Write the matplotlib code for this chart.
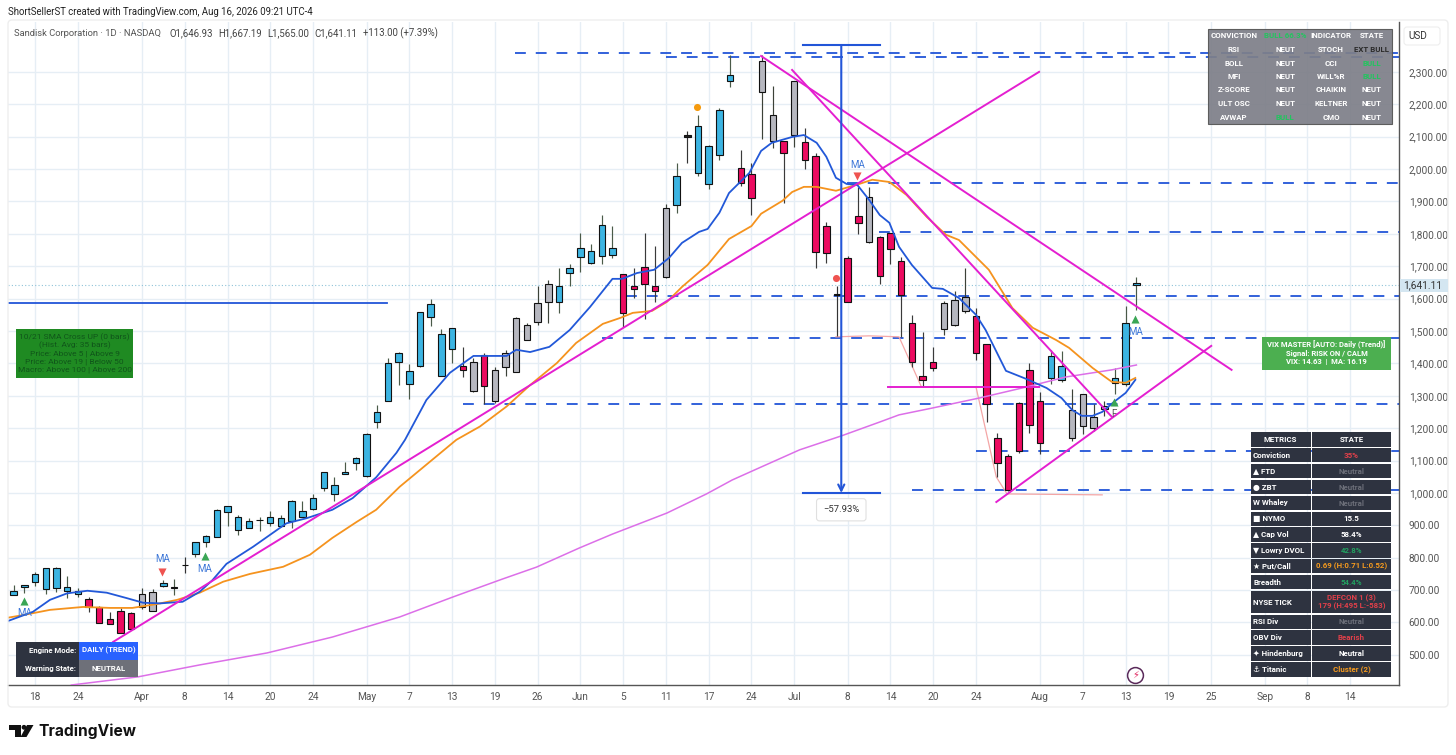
import matplotlib
matplotlib.use('Agg')
import matplotlib.pyplot as plt
from matplotlib.patches import Rectangle, FancyBboxPatch, Polygon, Circle
import numpy as np

plt.rcParams['font.family'] = ['Roboto', 'DejaVu Sans']
TABLE_FONT = ['Roboto', 'DejaVu Sans']

# daily candles
opens = [684, 711, 724, 703, 706, 697, 688, 673, 649, 610, 637, 628, 649, 637, 713, 706, 778, 812, 847, 863,
         940, 886, 891, 915, 908, 899, 914, 927, 950, 1015, 997, 1060, 1092, 1053, 1218, 1285, 1405, 1336, 1391, 1543,
         1362, 1444, 1391, 1316, 1427, 1285, 1388, 1374, 1473, 1529, 1588, 1591, 1678, 1727, 1711, 1732, 1736, 1675, 1638, 1697,
         1638, 1668, 1888, 2098, 1989, 1955, 2042, 2271, 2004, 1984, 2237, 2087, 2086, 2106, 2083, 2040, 1825, 1611, 1725, 1854,
         1776, 1790, 1802, 1715, 1524, 1362, 1404, 1507, 1520, 1563, 1547, 1459, 1169, 1114, 1277, 1379, 1283, 1354, 1348, 1169,
         1208, 1200, 1259, 1339, 1337, 1647]
highs = [716, 716, 757, 769, 770, 745, 706, 680, 652, 632, 644, 633, 706, 703, 731, 733, 803, 850, 870, 949,
         961, 933, 923, 927, 945, 933, 977, 975, 997, 1066, 1048, 1097, 1110, 1186, 1272, 1417, 1435, 1397, 1559, 1598,
         1505, 1510, 1450, 1416, 1433, 1390, 1442, 1542, 1524, 1639, 1658, 1696, 1707, 1802, 1769, 1858, 1825, 1676, 1694, 1802,
         1763, 1892, 2020, 2118, 2167, 2075, 2190, 2353, 2059, 2020, 2353, 2255, 2087, 2272, 2126, 2051, 1835, 1639, 1730, 1946,
         1946, 1792, 1803, 1728, 1550, 1497, 1452, 1594, 1625, 1695, 1570, 1460, 1184, 1120, 1282, 1401, 1313, 1442, 1439, 1320,
         1306, 1275, 1284, 1387, 1578, 1667]
lows = [684, 692, 713, 688, 695, 677, 680, 633, 598, 595, 567, 577, 641, 637, 709, 684, 752, 803, 832, 863,
        898, 871, 891, 884, 898, 896, 893, 927, 948, 1007, 975, 1060, 1071, 1049, 1202, 1285, 1333, 1290, 1390, 1514,
        1362, 1402, 1359, 1313, 1275, 1279, 1362, 1372, 1473, 1517, 1524, 1557, 1639, 1683, 1707, 1707, 1724, 1512, 1601, 1536,
        1589, 1663, 1864, 2020, 1980, 1938, 2028, 2252, 1949, 1859, 2092, 2064, 1895, 2069, 2000, 1693, 1711, 1483, 1588, 1800,
        1771, 1644, 1707, 1481, 1388, 1326, 1375, 1488, 1514, 1557, 1411, 1220, 1048, 1006, 1123, 1184, 1120, 1337, 1341, 1161,
        1181, 1192, 1239, 1306, 1331, 1565]
closes = [698, 715, 749, 767, 767, 711, 698, 649, 598, 595, 567, 581, 688, 695, 723, 711, 779, 848, 868, 948,
          960, 925, 913, 917, 925, 923, 975, 943, 984, 1065, 1023, 1066, 1107, 1182, 1251, 1401, 1433, 1375, 1558, 1583,
          1490, 1509, 1379, 1404, 1329, 1379, 1433, 1539, 1517, 1586, 1644, 1638, 1694, 1757, 1746, 1828, 1756, 1555, 1631, 1644,
          1622, 1879, 1978, 2105, 2132, 2072, 2183, 2290, 1958, 1911, 2333, 2168, 2048, 2271, 2028, 1743, 1742, 1615, 1588, 1833,
          1913, 1671, 1753, 1611, 1405, 1350, 1386, 1586, 1595, 1606, 1433, 1274, 1092, 1009, 1131, 1210, 1155, 1422, 1393, 1255,
          1305, 1234, 1268, 1354, 1524, 1641]
kinds = list('bbbbbbb' 'rrrrr' 'gg' 'bb' 'k' 'bbbbbbbbbbbbbbbbbbbbbbbbb' 'rgr' 'gggggg' 'bbbbbb' 'rrrr' 'gbk' 'bbbb'
             'rr' 'gg' 'rg' 'rrr' 'k' 'rr' 'g' 'rrrrrr' 'ggg' 'rrrrrrr' 'bb' 'gggg' 'bbb')

ma_blue_x = [-0.5, 1.8, 3.4, 5.0, 6.9, 8.7, 10.6, 12.1, 13.7, 15.8, 17.4, 18.6, 19.9, 22.4, 25.5, 27.4, 29.8, 31.7, 33.9, 35.8,
             36.6, 38.6, 40.8, 43.0, 46.1, 47.0, 48.3, 50.1, 52.0, 53.9, 56.0, 56.9, 58.3, 59.9, 61.3, 62.5, 64.1, 64.9, 66.0, 66.9,
             68.8, 69.9, 70.9, 72.8, 73.9, 75.1, 76.0, 76.9, 77.9, 78.9, 80.0, 81.0, 81.9, 82.8, 84.0, 85.9, 86.9, 88.4, 90.0, 90.9,
             92.8, 94.7, 96.6, 98.0, 99.0, 99.9, 100.9, 101.8, 102.9, 104.0, 104.9]
ma_blue = [605, 633, 670, 690, 698, 692, 675, 661, 659, 664, 695, 731, 781, 834, 906, 922, 948, 984, 1048, 1124,
           1164, 1287, 1371, 1423, 1423, 1442, 1435, 1451, 1503, 1574, 1661, 1661, 1679, 1689, 1726, 1772, 1806, 1815, 1865, 1926,
           1988, 2056, 2081, 2099, 2105, 2081, 2038, 1973, 1954, 1951, 1905, 1858, 1834, 1760, 1704, 1633, 1630, 1602, 1550, 1503,
           1377, 1352, 1324, 1293, 1256, 1238, 1238, 1250, 1281, 1309, 1349]
ma_orange_x = [-0.5, 0.9, 3.4, 6.5, 9.0, 11.1, 13.4, 15.3, 17.4, 19.6, 22.1, 25.2, 27.7, 29.8, 32.1, 33.9, 36.1, 41.4, 43.6, 46.1,
               48.3, 50.8, 52.6, 55.1, 56.7, 57.9, 59.7, 61.1, 62.5, 64.9, 66.9, 69.0, 69.9, 71.9, 72.8, 73.9, 75.1, 76.9, 78.8, 80.3,
               81.9, 83.5, 85.4, 87.2, 88.4, 91.2, 93.4, 95.3, 97.5, 98.7, 100.9, 102.7, 104.0, 104.9]
ma_orange = [615, 623, 639, 648, 645, 645, 657, 670, 692, 726, 750, 772, 809, 861, 911, 948, 1019, 1164, 1205, 1267,
             1333, 1401, 1463, 1522, 1540, 1556, 1562, 1590, 1636, 1704, 1784, 1824, 1862, 1902, 1929, 1945, 1945, 1933, 1951, 1967,
             1960, 1920, 1852, 1797, 1781, 1689, 1571, 1510, 1472, 1448, 1386, 1343, 1340, 1355]
ma_purple_x = [5.4, 11.6, 17.4, 23.7, 29.8, 36.1, 41.1, 45.7, 48.9, 52.9, 56.0, 61.1, 64.8, 67.2, 69.7, 73.5, 77.4, 81.0, 82.8, 85.9,
               90.3, 94.7, 98.4, 102.7, 105.0]
ma_purple = [407, 432, 469, 506, 555, 617, 679, 734, 771, 830, 873, 938, 997, 1040, 1077, 1133, 1176, 1219, 1241, 1262,
             1293, 1327, 1358, 1380, 1395]

# trendlines: x0, p0, x1, p1
trendlines = [[9.3, 540, 95.9, 2300], [69.9, 2349, 113.9, 1380], [72.8, 2306, 102.7, 1235],
              [91.9, 972, 112.0, 1454], [81.8, 1327, 95.9, 1327]]
levels = [2359, 2346, 1957, 1806, 1608, 1479, 1275, 1130, 1008]
level_starts = [46.9, 61, 77.9, 80.9, 57.3, 55, 42, 90, 84]
zigzag_x = [76.9, 80, 82.8, 84.9, 90, 91.9, 92.9, 101.8]
zigzag_p = [1482, 1485, 1482, 1327, 1327, 1049, 997, 994]

price_ticks = list(range(500, 2400, 100))
date_ticks = [2, 6, 12, 16, 20, 24, 28, 33, 37, 41, 45, 49, 53, 57, 61, 65, 69, 73, 78, 82, 86, 90, 96, 100, 104, 108, 112, 117, 121, 125]
date_labels = ['18', '24', 'Apr', '8', '14', '20', '24', 'May', '7', '13', '19', '26', 'Jun', '5', '11', '17', '24', 'Jul', '8', '14',
               '20', '24', 'Aug', '7', '13', '19', '25', 'Sep', '8', '14']

W, H = 1456, 755
fig = plt.figure(figsize=(W / 100, H / 100), dpi=100, facecolor='white')
ax = fig.add_axes([8 / W, 1 - 685 / H, (1399 - 8) / W, (685 - 22) / H])
ax.set_xlim(-0.53, 129.56)
ax.set_ylim(407, 2454)

ax.set_xticks(date_ticks)
ax.set_xticklabels(date_labels)
ax.set_yticks(price_ticks)
ax.set_yticklabels([f'{p:,.2f}' for p in price_ticks])
ax.yaxis.tick_right()
ax.tick_params(axis='y', length=0, labelsize=7.3, labelcolor='#555555', pad=7)
ax.tick_params(axis='x', length=0, labelsize=7.3, labelcolor='#555555', pad=5)
ax.grid(True, color='#e6eef5', lw=1)
ax.set_axisbelow(True)
for side in ['top', 'left']:
    ax.spines[side].set_visible(False)
for side in ['right', 'bottom']:
    ax.spines[side].set_color('#555555')
    ax.spines[side].set_linewidth(1)

# levels and drawings
for p, start in zip(levels, level_starts):
    ax.plot([start, 129.56], [p, p], color='#2255d8', lw=1.3, dashes=(6, 5.5), zorder=2)
ax.plot([-0.5, 34.9], [1587, 1587], color='#2255d8', lw=1.3, zorder=2)
ax.axhline(1641, color='#8fc3d8', lw=0.8, ls=(0, (1, 2)), zorder=2)
ax.plot(zigzag_x, zigzag_p, color='#f4a6a6', lw=0.9, zorder=2)

# candles
x = np.arange(len(opens))
body_colors = {'b': '#3cb4e2', 'g': '#b6b7bf', 'r': '#ec0b60', 'k': '#222222'}
wick_colors = {'b': '#4a5a48', 'g': '#3c4238', 'r': '#3a3a3a', 'k': '#333333'}
ax.vlines(x, lows, highs, colors=[wick_colors[k] for k in kinds], lw=0.85, zorder=3)
bottoms = np.minimum(opens, closes)
tops = np.maximum(opens, closes)
ax.bar(x, tops - bottoms, bottom=bottoms, width=0.6, color=[body_colors[k] for k in kinds],
       edgecolor='#111111', lw=0.8, zorder=4)

# moving averages
ax.plot(ma_purple_x, ma_purple, color='#dc6fe8', lw=1.1, zorder=5)
ax.plot(ma_orange_x, ma_orange, color='#f5931e', lw=1.3, zorder=5)
ax.plot(ma_blue_x, ma_blue, color='#2258d8', lw=1.3, zorder=5)
for t in trendlines:
    ax.plot([t[0], t[2]], [t[1], t[3]], color='#e41fd0', lw=1.4, zorder=6)

# measure tool
ax.plot([73.8, 81], [2383, 2383], color='#2255d8', lw=1.5, zorder=6)
ax.plot([73.8, 81], [1000, 1000], color='#2255d8', lw=1.5, zorder=6)
ax.annotate('', xy=(77.4, 1000), xytext=(77.4, 2383), zorder=6,
            arrowprops=dict(arrowstyle='->', color='#2255d8', lw=1.5, shrinkA=0, shrinkB=0, mutation_scale=11))
ax.text(77.4, 948, '\u221257.93%', fontsize=6.8, color='#333333', ha='center', va='center', zorder=7,
        bbox=dict(boxstyle='round,pad=0.7,rounding_size=0.3', fc='white', ec='#e0e0e0', lw=0.8))

# signals
ax.scatter([1.0, 17.9, 104.9, 102.9], [667, 806, 1538, 1280], marker='^', s=34, color='#3aa655', zorder=7, lw=0)
ax.scatter([13.9, 78.9], [757, 1977], marker='v', s=34, color='#ef5350', zorder=7, lw=0)
ax.scatter([63.9], [2193], s=26, color='#f59a0e', zorder=7, lw=0)
ax.scatter([76.9], [1664], s=26, color='#ef5350', zorder=7, lw=0)
for mx, mp in [(1.0, 628), (13.9, 795), (17.9, 766), (78.9, 2013), (104.9, 1498)]:
    ax.text(mx, mp, 'MA', fontsize=7, color='#3f78d8', ha='center', va='center', zorder=7)
ax.text(102.9, 1245, 'F', fontsize=7, color='#555555', ha='center', va='center', zorder=7)
ax.scatter([104.9], [438], s=130, facecolor='white', edgecolor='#5a2a5a', lw=1.1, zorder=7)
ax.text(104.9, 438, '\u26a1', fontsize=7, color='#e0245e', ha='center', va='center', zorder=8, family='DejaVu Sans')

# overlay in pixel units for panels and labels
ov = fig.add_axes([0, 0, 1, 1], facecolor='none')
ov.set_xlim(0, W)
ov.set_ylim(H, 0)
ov.axis('off')
ov.add_patch(FancyBboxPatch((8, 20), 1440, 687, boxstyle='round,pad=0,rounding_size=4', fc='none', ec='#eeeeee', lw=1))

ov.text(8, 12, 'ShortSellerST created with TradingView.com, Aug 16, 2026 09:21 UTC-4', fontsize=6.9, color='#222222', va='center')
ov.text(14, 33, 'Sandisk Corporation \u00b7 1D \u00b7 NASDAQ', fontsize=6.75, color='#555555', va='center')
legend_x = [169, 218, 267, 314, 363]
legend_t = ['O1,646.93', 'H1,667.19', 'L1,565.00', 'C1,641.11', '+113.00 (+7.39%)']
for lx, lt in zip(legend_x, legend_t):
    ov.text(lx, 33, lt, fontsize=6.9, color='#444444', va='center')

ov.add_patch(FancyBboxPatch((1404, 27), 36, 18, boxstyle='round,pad=0,rounding_size=3', fc='white', ec='#eeeeee', lw=0.8))
ov.text(1418, 36, 'USD', fontsize=7.2, color='#333333', ha='center', va='center')
ov.add_patch(Rectangle((1400, 279), 48, 13, fc='#d4e6f1', ec='none'))
ov.text(1423, 285.5, '1,641.11', fontsize=7.3, color='#333333', ha='center', va='center')

# signal matrix, top right
ov.add_patch(Rectangle((1208, 29), 184, 95, fc='#7e7f89', ec='#555555', lw=0.8, alpha=0.93))
matrix = [['CONVICTION', 'BULL 66.3%', 'INDICATOR', 'STATE'], ['RSI', 'NEUT', 'STOCH', 'EXT BULL'], ['BOLL', 'NEUT', 'CCI', 'BULL'],
          ['MFI', 'NEUT', 'WILL%R', 'BULL'], ['Z-SCORE', 'NEUT', 'CHAIKIN', 'NEUT'], ['ULT OSC', 'NEUT', 'KELTNER', 'NEUT'],
          ['AVWAP', 'BULL', 'CMO', 'NEUT']]
col_x = [1234, 1285, 1331, 1372]
for r, row in enumerate(matrix):
    for cx, cell in zip(col_x, row):
        c = '#22c55e' if 'BULL' in cell else 'white'
        if cell == 'EXT BULL':
            c = '#2a2a2a'
        ov.text(cx, 36 + r * 13.5, cell, fontsize=5.7, fontweight='bold', color=c, ha='center', va='center', family=TABLE_FONT)

# metrics table, lower right
metrics = ['METRICS', 'Conviction', '\u25b2 FTD', '\u25cf ZBT', 'W Whaley', '\u25a0 NYMO', '\u25b2 Cap Vol', '\u25bc Lowry DVOL',
           '\u2605 Put/Call', 'Breadth', 'NYSE TICK', 'RSI Div', 'OBV Div', '\u2726 Hindenburg', '\u2693 Titanic']
states = ['STATE', '35%', 'Neutral', 'Neutral', 'Neutral', '15.5', '58.4%', '42.8%', '0.69 (H:0.71 L:0.52)', '54.4%',
          'DEFCON 1 (3)\n179 (H:495 L:-583)', 'Neutral', 'Bearish', 'Neutral', 'Cluster (2)']
state_colors = ['white', '#e0404a', '#6b6e78', '#6b6e78', '#6b6e78', 'white', 'white', '#22a060', '#f59a1e', '#22a060',
                '#e0404a', '#6b6e78', '#e0404a', 'white', '#f59a1e']
row_tops = [432.3, 448.3, 464.3, 480, 496, 511.7, 527.3, 543.3, 559.3, 575, 590.7, 615, 630.3, 646, 662]
row_h = [14.3, 14, 14, 14.3, 14, 14.3, 14.3, 14.3, 14, 14.3, 22.7, 14, 14.7, 14.7, 14.7]
for i, (m, s, c) in enumerate(zip(metrics, states, state_colors)):
    y0, h = row_tops[i], row_h[i]
    ov.add_patch(Rectangle((1251, y0), 59.5, h, fc='#2e3340', ec='none'))
    ov.add_patch(Rectangle((1312, y0), 79, h, fc='#2e3340', ec='none'))
    if i == 0:
        ov.text(1280.5, y0 + h / 2, m, fontsize=5.7, fontweight='bold', color='white', ha='center', va='center', family=TABLE_FONT)
    else:
        ov.text(1253, y0 + h / 2, m, fontsize=5.7, fontweight='bold', color='white', ha='left', va='center', family=TABLE_FONT)
    ov.text(1351.5, y0 + h / 2, s, fontsize=5.7, fontweight='bold', color=c, ha='center', va='center', linespacing=1.0, family=TABLE_FONT)

# green panels
ov.add_patch(Rectangle((1262, 337), 129, 33, fc='#4caf50', ec='none'))
for k, line in enumerate(['VIX MASTER [AUTO: Daily (Trend)]', 'Signal: RISK ON / CALM', 'VIX: 14.63  |  MA: 16.19']):
    ov.text(1326.5, 345 + k * 8.2, line, fontsize=5.5, fontweight='bold', color='white', ha='center', va='center', family=TABLE_FONT)
ov.add_patch(Rectangle((16, 329), 117, 49, fc='#1f8a22', ec='none'))
sma_lines = ['10/21 SMA Cross UP (0 bars)', '(Hist. Avg: 35 bars)', 'Price: Above 5 | Above 9', 'Price: Above 19 | Below 50',
             'Macro: Above 100 | Above 200']
for k, line in enumerate(sma_lines):
    ov.text(74.5, 337.5 + k * 8, line, fontsize=6, color='#10561a', ha='center', va='center', family=TABLE_FONT)

# engine panel
ov.add_patch(Rectangle((16, 642), 63, 35, fc='#2e3340', ec='none'))
ov.add_patch(Rectangle((79, 642), 59, 17.5, fc='#2962ff', ec='none'))
ov.add_patch(Rectangle((79, 660), 59, 17, fc='#6e7079', ec='none'))
ov.text(76, 650.5, 'Engine Mode:', fontsize=5.6, fontweight='bold', color='white', ha='right', va='center', family=TABLE_FONT)
ov.text(76, 668.5, 'Warning State:', fontsize=5.6, fontweight='bold', color='white', ha='right', va='center', family=TABLE_FONT)
ov.text(108.5, 650.5, 'DAILY (TREND)', fontsize=5.6, fontweight='bold', color='white', ha='center', va='center', family=TABLE_FONT)
ov.text(108.5, 668.5, 'NEUTRAL', fontsize=5.6, fontweight='bold', color='white', ha='center', va='center', family=TABLE_FONT)

# TradingView mark
ov.add_patch(Polygon([(9, 725), (21, 725), (21, 737), (15, 737), (15, 730), (9, 730)], fc='#111111', ec='none'))
ov.add_patch(Circle((24, 727.3), 2.4, fc='#111111', ec='none'))
ov.add_patch(Polygon([(27, 725), (33.5, 725), (26.5, 737), (20.5, 737)], fc='#111111', ec='none'))
ov.text(38, 731, 'TradingView', fontsize=11.2, fontweight='bold', color='#111111', va='center', family='Inter')

fig.savefig('out.png', dpi=100)
